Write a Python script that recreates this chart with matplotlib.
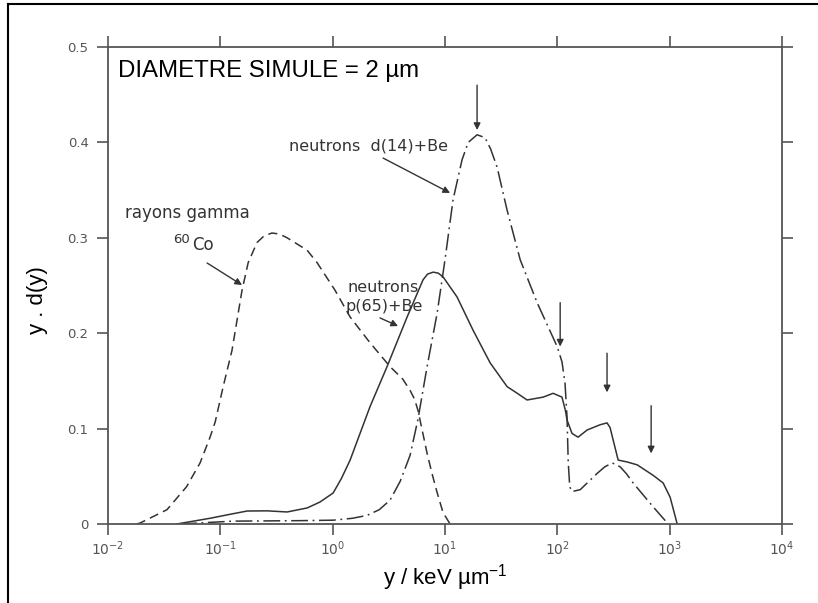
import matplotlib
matplotlib.use("Agg")
import matplotlib.pyplot as plt
from matplotlib.lines import Line2D
from matplotlib.ticker import FixedLocator, FixedFormatter, NullLocator

# gamma rays 60Co (dashed)
gamma_x = [0.018, 0.0193, 0.0335, 0.050, 0.066, 0.081, 0.090, 0.106, 0.127,
           0.156, 0.177, 0.212, 0.245, 0.288, 0.335, 0.393, 0.592, 0.726, 1.05,
           1.43, 2.15, 3.24, 4.2, 4.89, 5.35, 5.75, 6.3, 6.93, 7.7, 8.51, 9.6,
           11.1]
gamma_yd = [0.0, 0.001, 0.015, 0.039, 0.064, 0.091, 0.107, 0.144, 0.182,
            0.245, 0.274, 0.295, 0.302, 0.305, 0.304, 0.300, 0.287, 0.274, 0.245,
            0.217, 0.190, 0.165, 0.152, 0.140, 0.131, 0.119, 0.097, 0.074, 0.052,
            0.033, 0.012, 0.0]

# neutrons p(65)+Be (solid)
p65_x = [0.041, 0.081, 0.12, 0.173, 0.26, 0.393, 0.592, 0.77, 1.01, 1.2,
         1.43, 2.15, 3.05, 4.60, 6.38, 7.0, 7.84, 8.7, 9.62, 12.8, 17.8, 25.2,
         35.7, 44, 53.8, 74.8, 91.8, 110, 118, 122, 135, 153, 184, 240, 277,
         295, 314, 348, 419, 514, 713, 875, 1010, 1167]
p65_yd = [0.0, 0.006, 0.010, 0.0136, 0.0138, 0.0126, 0.0168, 0.023, 0.0325, 0.048,
          0.067, 0.123, 0.165, 0.217, 0.256, 0.262, 0.264, 0.263, 0.259, 0.238, 0.203,
          0.169, 0.144, 0.137, 0.130, 0.133, 0.137, 0.133, 0.119, 0.109, 0.095, 0.091,
          0.0985, 0.104, 0.106, 0.101, 0.088, 0.067, 0.065, 0.062, 0.051, 0.043,
          0.028, 0.0]

# neutrons d(14)+Be (dash-dot)
d14_x = [0.0438, 0.130, 0.5, 1.01, 1.5, 2.02, 2.6, 3.24, 4.0, 4.89, 5.75,
         6.93, 8.51, 10.0, 11.8, 14.2, 16.1, 19.3, 22.7, 25.5, 29.1, 35.7,
         46.7, 66.1, 99.6, 110, 117, 122, 125, 129, 135, 160, 226, 265, 308,
         362, 410, 473, 713, 970]
d14_yd = [0.0, 0.003, 0.0035, 0.004, 0.006, 0.009, 0.015, 0.025, 0.045, 0.072,
          0.110, 0.165, 0.221, 0.277, 0.340, 0.382, 0.400, 0.408, 0.405, 0.393,
          0.374, 0.329, 0.277, 0.232, 0.186, 0.170, 0.148, 0.112, 0.065, 0.039,
          0.034, 0.036, 0.053, 0.060, 0.064, 0.060, 0.053, 0.043, 0.018, 0.0]

x_ticks = [1e-2, 1e-1, 1e0, 1e1, 1e2, 1e3, 1e4]
x_tick_labels = [r"$\mathregular{10^{-2}}$", r"$\mathregular{10^{-1}}$",
                 r"$\mathregular{10^{0}}$", r"$\mathregular{10^{1}}$",
                 r"$\mathregular{10^{2}}$", r"$\mathregular{10^{3}}$",
                 r"$\mathregular{10^{4}}$"]
y_ticks = [0.0, 0.1, 0.2, 0.3, 0.4, 0.5]
y_tick_labels = ["0", "0.1", "0.2", "0.3", "0.4", "0.5"]

# vertical marker arrows (x, y tail, y head)
marker_x = [19.3, 106, 277, 684]
marker_y_from = [0.460, 0.232, 0.179, 0.124]
marker_y_to = [0.413, 0.186, 0.138, 0.074]

ink = "#333333"
axis_grey = "#555555"
hand_font = "DejaVu Sans"
print_font = "Liberation Sans"

fig = plt.figure(figsize=(8.18, 6.03), dpi=100)
ax = fig.add_axes([108 / 818, 1 - 524 / 603, (782 - 108) / 818, (524 - 47) / 603])
ax.set_xscale("log")
ax.set_xlim(1e-2, 1e4)
ax.set_ylim(0, 0.5)

ax.plot(gamma_x, gamma_yd, color=ink, lw=1.1, linestyle=(0, (6, 3.5)))
ax.plot(p65_x, p65_yd, color=ink, lw=1.1)
ax.plot(d14_x, d14_yd, color=ink, lw=1.1, linestyle=(0, (11, 3, 1.2, 3)))

ax.xaxis.set_major_locator(FixedLocator(x_ticks))
ax.xaxis.set_major_formatter(FixedFormatter(x_tick_labels))
ax.xaxis.set_minor_locator(NullLocator())
ax.yaxis.set_major_locator(FixedLocator(y_ticks))
ax.yaxis.set_major_formatter(FixedFormatter(y_tick_labels))

for spine in ax.spines.values():
    spine.set_color(axis_grey)
    spine.set_linewidth(1.3)
ax.tick_params(which="both", direction="out", top=True, right=True,
               length=8, width=1.2, color=axis_grey, labelcolor=axis_grey)
ax.tick_params(axis="y", pad=6, labelsize=9.5)
ax.tick_params(axis="x", pad=3, labelsize=10)
for lab in ax.get_xticklabels() + ax.get_yticklabels():
    lab.set_fontfamily(hand_font)

ax.set_xlabel(r"y / keV µm$^{\mathregular{-1}}$", fontfamily=print_font,
              fontsize=16, labelpad=3)
ax.set_ylabel("y . d(y)", fontfamily=print_font, fontsize=16)
ax.yaxis.set_label_coords(-0.089, 0.47)

ax.text(0.0123, 0.475, "DIAMETRE SIMULE = 2 µm", fontfamily=print_font,
        fontsize=17.3, va="center", ha="left", color="black")

arrow_kw = dict(arrowstyle="-|>", color=ink, lw=1.0, mutation_scale=10,
                shrinkA=0, shrinkB=0)

# curve labels
ax.text(0.01416, 0.326, "rayons gamma", fontfamily=hand_font, fontsize=12,
        color=ink, ha="left", va="center")
ax.text(0.0379, 0.2987, "60", fontfamily=hand_font, fontsize=9.5,
        color=ink, ha="left", va="center")
ax.text(0.056, 0.2925, "Co", fontfamily=hand_font, fontsize=12,
        color=ink, ha="left", va="center")
ax.annotate("", xy=(0.156, 0.2505), xytext=(0.0762, 0.2736), arrowprops=arrow_kw)

ax.text(1.343, 0.2474, "neutrons", fontfamily=hand_font, fontsize=11.5,
        color=ink, ha="left", va="center")
ax.text(1.289, 0.2275, "p(65)+Be", fontfamily=hand_font, fontsize=11.5,
        color=ink, ha="left", va="center")
ax.annotate("", xy=(3.82, 0.2075), xytext=(2.64, 0.216), arrowprops=arrow_kw)

ax.text(2.07, 0.396, "neutrons  d(14)+Be", fontfamily=hand_font, fontsize=11.5,
        color=ink, ha="center", va="center")
ax.annotate("", xy=(11.1, 0.347), xytext=(2.81, 0.3836), arrowprops=arrow_kw)

for mx, y0, y1 in zip(marker_x, marker_y_from, marker_y_to):
    ax.annotate("", xy=(mx, y1), xytext=(mx, y0), arrowprops=arrow_kw)

# scanned page frame (left and top edges)
fx = 8 / 818
fy = 1 - 4 / 603
fig.add_artist(Line2D([fx, fx], [0, fy], transform=fig.transFigure,
                      color="black", lw=1.5))
fig.add_artist(Line2D([fx, 1], [fy, fy], transform=fig.transFigure,
                      color="black", lw=1.5))

fig.savefig("out.png", dpi=100)
